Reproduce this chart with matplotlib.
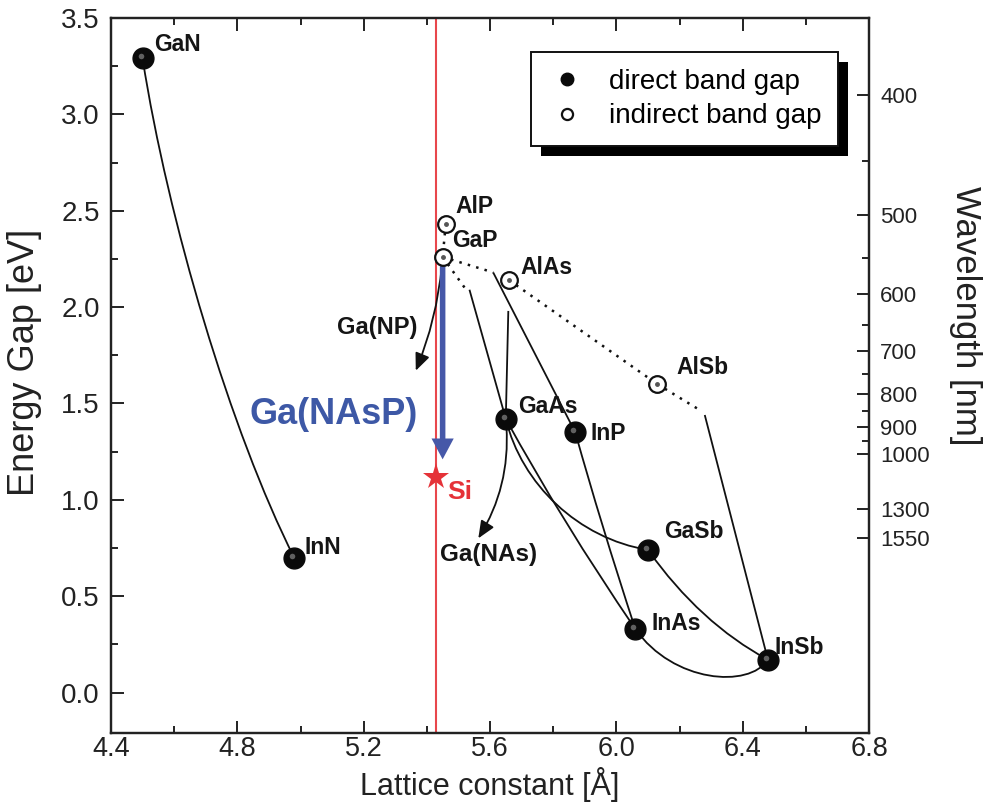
import matplotlib
matplotlib.use("Agg")
import matplotlib.pyplot as plt
from matplotlib.lines import Line2D
from matplotlib.path import Path
from matplotlib.patches import PathPatch, Rectangle
from matplotlib.ticker import MultipleLocator, FixedLocator, FormatStrFormatter
from matplotlib.transforms import offset_copy

plt.rcParams['font.family'] = ['Liberation Sans', 'DejaVu Sans']

# binary semiconductors: lattice constant [A] and band gap [eV]
direct_names = ["GaN", "InN", "GaAs", "InP", "GaSb", "InAs", "InSb"]
direct_a = [4.50, 4.98, 5.65, 5.87, 6.10, 6.06, 6.48]
direct_eg = [3.29, 0.70, 1.42, 1.35, 0.74, 0.33, 0.17]

indirect_names = ["AlP", "GaP", "AlAs", "AlSb"]
indirect_a = [5.46, 5.45, 5.66, 6.13]
indirect_eg = [2.43, 2.26, 2.14, 1.60]

si_a = 5.43
si_eg = 1.12

# tip of the Ga(NAsP) arrow and the nitrogen arrows
ganasp_end_eg = 1.21
ganp_end = (5.365, 1.67)
ganas_end = (5.563, 0.80)

# wavelength scale on the right [nm]
wavelength_major = [400, 500, 600, 700, 800, 900, 1000, 1300, 1550]
wavelength_minor = [450, 550, 650, 750, 850, 950]

# ternary alloys, given as bezier control points (names = end compounds)
dotted_lines = [
    ["AlP", "GaP"],
    ["GaP", (5.52, 2.10)],
    ["GaP", (5.61, 2.18)],
    ["AlAs", "AlSb"],
    ["AlSb", (6.27, 1.46)],
]
solid_lines = [
    ["GaN", (4.58, 2.45), (4.78, 1.35), "InN"],
    [(5.535, 2.09), "GaAs"],
    [(5.61, 2.18), "InP"],
    [(5.658, 1.98), "GaAs"],
    [(6.28, 1.44), "InSb"],
    ["GaAs", (5.70, 1.08), (5.88, 0.80), "GaSb"],
    ["GaAs", (5.827, 0.89), "InAs"],
    ["InP", (5.95, 0.88), "InAs"],
    ["GaSb", (6.265, 0.36), "InSb"],
    ["InAs", (6.18, 0.05), (6.42, 0.02), "InSb"],
]

pos = {}
for n, a, e in zip(direct_names, direct_a, direct_eg):
    pos[n] = (a, e)
for n, a, e in zip(indirect_names, indirect_a, indirect_eg):
    pos[n] = (a, e)


def draw_curve(ax, pts, **kw):
    verts = [pos[p] if isinstance(p, str) else p for p in pts]
    code = {2: Path.LINETO, 3: Path.CURVE3, 4: Path.CURVE4}[len(verts)]
    codes = [Path.MOVETO] + [code] * (len(verts) - 1)
    ax.add_patch(PathPatch(Path(verts, codes), facecolor='none', **kw))


fig = plt.figure(figsize=(9.93, 8.05), dpi=100)
ax = fig.add_axes([111 / 993, 72 / 805, 758 / 993, 715 / 805])
ax.set_xlim(4.4, 6.8)
ax.set_ylim(-0.21, 3.5)

ax.axvline(si_a, color='#e8474c', lw=1.5, zorder=1)

for pts in solid_lines:
    draw_curve(ax, pts, edgecolor='#111111', lw=1.3, zorder=2)
for pts in dotted_lines:
    draw_curve(ax, pts, edgecolor='#111111', lw=1.8, linestyle=(0, (1, 2.5)), zorder=2)

# nitrogen incorporation arrows
ax.annotate("", xy=ganp_end, xytext=pos["GaP"],
            arrowprops=dict(arrowstyle='-|>,head_length=0.7,head_width=0.3', mutation_scale=15,
                            connectionstyle='arc3,rad=-0.08', color='#111111', lw=1.3,
                            shrinkA=6, shrinkB=0), zorder=2)
ax.annotate("", xy=ganas_end, xytext=pos["GaAs"],
            arrowprops=dict(arrowstyle='-|>,head_length=0.7,head_width=0.3', mutation_scale=15,
                            connectionstyle='arc3,rad=-0.17', color='#111111', lw=1.3,
                            shrinkA=6, shrinkB=0), zorder=2)

blue = '#4658a8'
ax.annotate("", xy=(pos["GaP"][0], ganasp_end_eg), xytext=pos["GaP"],
            arrowprops=dict(arrowstyle='simple,head_length=0.75,head_width=0.8,tail_width=0.2',
                            mutation_scale=20, facecolor=blue, edgecolor='none',
                            shrinkA=4, shrinkB=0), zorder=3)

# direct gap: black balls with a small highlight
ax.plot(direct_a, direct_eg, 'o', ms=15, color='#0a0a0a', zorder=4)
hl = offset_copy(ax.transData, fig=fig, x=-1.5, y=1.5, units='points')
ax.plot(direct_a, direct_eg, 'o', ms=4, color='#777777', mew=0, alpha=0.8, transform=hl, zorder=5)

# indirect gap: open circles
ax.plot(indirect_a, indirect_eg, 'o', ms=12, mfc='white', mec='#111111', mew=1.6, zorder=4)
ax.plot(indirect_a, indirect_eg, 'o', ms=2.5, color='#555555', zorder=5)

ax.plot(si_a, si_eg, '*', ms=20, color='#e53238', mew=0, zorder=5)

label_pos = {
    "GaN": (4.535, 3.36), "InN": (5.014, 0.75), "AlP": (5.49, 2.52), "GaP": (5.48, 2.345),
    "AlAs": (5.695, 2.205), "AlSb": (6.19, 1.685), "GaAs": (5.69, 1.483), "InP": (5.917, 1.343),
    "GaSb": (6.15, 0.835), "InAs": (6.11, 0.358), "InSb": (6.50, 0.233),
}
for name, (x, y) in label_pos.items():
    ax.text(x, y, name, fontsize=16.5, fontweight='bold', color='#151515', va='center', ha='left', zorder=6)

ax.text(5.369, 1.893, "Ga(NP)", fontsize=17, fontweight='bold', color='#151515', va='center', ha='right')
ax.text(5.442, 0.716, "Ga(NAs)", fontsize=17.5, fontweight='bold', color='#151515', va='center', ha='left')
ax.text(4.84, 1.442, "Ga(NAsP)", fontsize=26, fontweight='bold', color='#3d58a6', va='center', ha='left')
ax.text(5.464, 1.04, "Si", fontsize=19, fontweight='bold', color='#e53238', va='center', ha='left')

# axes styling
ax.xaxis.set_major_locator(MultipleLocator(0.4))
ax.xaxis.set_minor_locator(MultipleLocator(0.2))
ax.yaxis.set_major_locator(MultipleLocator(0.5))
ax.yaxis.set_minor_locator(MultipleLocator(0.25))
ax.xaxis.set_major_formatter(FormatStrFormatter('%.1f'))
ax.yaxis.set_major_formatter(FormatStrFormatter('%.1f'))
ax.tick_params(which='both', direction='in', top=True, right=False, width=1.4, colors='#222222')
ax.tick_params(which='major', length=9, labelsize=20, pad=8)
ax.tick_params(axis='x', which='major', labelsize=19.5, pad=2)
ax.tick_params(which='minor', length=5)
for s in ax.spines.values():
    s.set_linewidth(1.6)
    s.set_color('#222222')

ax.set_xlabel("Lattice constant [Å]", fontsize=22, color='#222222')
ax.set_ylabel("Energy Gap [eV]", fontsize=26, color='#222222')
ax.xaxis.set_label_coords(0.5, -0.0476)
ax.yaxis.set_label_coords(-0.091, 0.519)

ax2 = ax.twinx()
ax2.set_ylim(ax.get_ylim())
ax2.yaxis.set_major_locator(FixedLocator([1240 / w for w in wavelength_major]))
ax2.yaxis.set_minor_locator(FixedLocator([1240 / w for w in wavelength_minor]))
ax2.set_yticklabels([str(w) for w in wavelength_major])
ax2.tick_params(which='both', direction='in', width=1.4, colors='#222222')
ax2.tick_params(which='major', length=9, labelsize=16, pad=8)
ax2.tick_params(which='minor', length=5)
for s in ax2.spines.values():
    s.set_linewidth(1.6)
    s.set_color('#222222')
ax2.set_ylabel("Wavelength [nm]", fontsize=25, rotation=270, color='#222222')
ax2.yaxis.set_label_coords(1.149, 0.583)

# legend with a solid drop shadow
handles = [
    Line2D([], [], marker='o', ls='none', color='#0a0a0a', ms=9),
    Line2D([], [], marker='o', ls='none', mfc='white', mec='#111111', mew=1.6, ms=8),
]
leg = ax2.legend(handles, ["direct band gap", "indirect band gap"], loc='upper right',
                 bbox_to_anchor=(0.959, 0.952), borderaxespad=0, fontsize=20, frameon=True,
                 fancybox=False, edgecolor='#111111', framealpha=1, handletextpad=0.8,
                 borderpad=0.6, labelspacing=0.3, handlelength=1.4)
leg.get_frame().set_linewidth(1.4)
leg.set_zorder(10)

fig.canvas.draw()
bb = leg.get_frame().get_window_extent()
inv = ax2.transAxes.inverted()
(x0, y0), (x1, y1) = inv.transform([(bb.x0 + 10, bb.y0 - 10), (bb.x1 + 10, bb.y1 - 10)])
ax2.add_patch(Rectangle((x0, y0), x1 - x0, y1 - y0, transform=ax2.transAxes,
                        facecolor='black', edgecolor='none', zorder=9))

fig.savefig("out.png", dpi=100)
